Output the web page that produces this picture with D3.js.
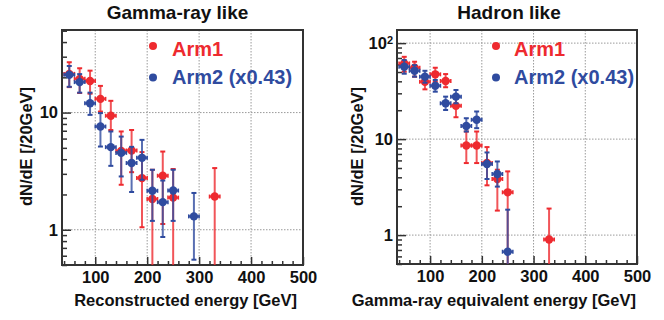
<!DOCTYPE html>
<html><head><meta charset="utf-8">
<script src="https://cdn.jsdelivr.net/npm/d3@7"></script>
<style>
body{margin:0;background:#fff;}
svg{font-family:"Liberation Sans",Arial,sans-serif;font-weight:bold;}
</style></head>
<body><svg id="c" width="664" height="320"></svg>
<script>
// ---- data ----
const xDomain = [36, 500];
const xMajorTicks = [100, 200, 300, 400, 500];
const binHalfWidth = 10;

const panelTitles = ["Gamma-ray like", "Hadron like"];
const xTitles = ["Reconstructed energy [GeV]", "Gamma-ray equivalent energy [GeV]"];
const yTitle = "dN/dE [/20GeV]";
const legendLabels = ["Arm1", "Arm2 (x0.43)"];

// Gamma-ray like, Arm1
const gArm1X  = [50, 70, 90, 110, 130, 150, 170, 190, 210, 230, 250, 330];
const gArm1Y  = [21.4, 19.4, 18.6, 13.1, 9.4, 4.7, 4.75, 2.76, 1.83, 2.89, 1.88, 1.92];
const gArm1Hi = [26.9, 23.9, 22.8, 16.9, 12.6, 6.9, 7.1, 4.6, 3.25, 4.65, 3.3, 3.36];
const gArm1Lo = [16.5, 14.7, 14.5, 10.2, 7.1, 2.42, 3.1, 1.05, 0.3, 1.12, 0.3, 0.3];
// Gamma-ray like, Arm2 (x0.43)
const gArm2X  = [50, 70, 90, 110, 130, 150, 170, 190, 210, 230, 250, 290];
const gArm2Y  = [21.0, 18.2, 12.0, 7.6, 5.07, 4.53, 3.71, 4.11, 2.15, 1.72, 2.16, 1.30];
const gArm2Hi = [25.0, 21.3, 14.8, 9.9, 6.9, 6.24, 5.1, 5.85, 3.25, 2.63, 3.25, 2.06];
const gArm2Lo = [16.6, 14.8, 9.56, 5.13, 3.51, 2.85, 2.1, 2.67, 1.19, 0.867, 1.19, 0.555];
// Hadron like, Arm1
const hArm1X  = [50, 70, 90, 110, 130, 150, 170, 190, 210, 230, 250, 330];
const hArm1Y  = [61.5, 55.4, 39.6, 47.3, 40.3, 22.2, 8.58, 8.58, 5.63, 3.84, 2.79, 0.90];
const hArm1Hi = [72, 64, 46.5, 55.4, 47.6, 26.6, 12, 12, 8.26, 4.8, 4.61, 1.89];
const hArm1Lo = [50.4, 44.7, 33, 39.6, 34.7, 16.9, 5.63, 5.63, 3.3, 1.8, 0.3, 0.3];
// Hadron like, Arm2 (x0.43)
const hArm2X  = [50, 70, 90, 110, 130, 150, 170, 190, 210, 230, 250];
const hArm2Y  = [56.7, 51.5, 44.7, 36, 23.6, 27.7, 13.7, 15.9, 5.5, 4.33, 0.671];
const hArm2Hi = [66.6, 59, 51.5, 41.3, 27.7, 32.5, 16.5, 19.4, 7.26, 5.85, 1.84];
const hArm2Lo = [48, 44.7, 38.7, 31.2, 20.1, 23.6, 12, 13, 3.84, 3.2, 0.3];

const gYDomain = [0.5, 50.7];
const hYDomain = [0.5, 137];
const gYMajor = [1, 10];
const hYMajor = [1, 10, 100];

// ---- drawing ----
const RED = "#ee2a2f", BLUE = "#2f4b9f";
const svg = d3.select("#c");

function mk(x, y, hi, lo){ return x.map((v,i)=>({x:v, y:y[i], hi:hi[i], lo:lo[i]})); }

const panels = [
  {box:{l:62,r:303,t:30,b:265}, yDomain:gYDomain, yMajor:gYMajor,
   series:[mk(gArm1X,gArm1Y,gArm1Hi,gArm1Lo), mk(gArm2X,gArm2Y,gArm2Hi,gArm2Lo)],
   title:panelTitles[0], titleX:177.5, xTitle:xTitles[0], xTitleEnd:297,
   yTitleX:31.5, legX:153, legTextX:172},
  {box:{l:397,r:637,t:30,b:264}, yDomain:hYDomain, yMajor:hYMajor,
   series:[mk(hArm1X,hArm1Y,hArm1Hi,hArm1Lo), mk(hArm2X,hArm2Y,hArm2Hi,hArm2Lo)],
   title:panelTitles[1], titleX:509, xTitle:xTitles[1], xTitleEnd:636,
   yTitleX:362.5, legX:496, legTextX:514}
];

panels.forEach((p, pi) => {
  const b = p.box;
  const x = d3.scaleLinear().domain(xDomain).range([b.l, b.r]);
  const y = d3.scaleLog().domain(p.yDomain).range([b.b, b.t]);
  const g = svg.append("g");
  const clipId = "clip" + pi;
  svg.append("clipPath").attr("id", clipId).append("rect")
    .attr("x", b.l).attr("y", b.t).attr("width", b.r - b.l).attr("height", b.b - b.t);

  // grid
  const grid = g.append("g").attr("stroke", "#9a9a9a").attr("stroke-width", 1).attr("stroke-dasharray", "1.5,1.5");
  xMajorTicks.filter(v => v < 500).forEach(v => {
    grid.append("line").attr("x1", x(v)).attr("x2", x(v)).attr("y1", b.t).attr("y2", b.b);
  });
  p.yMajor.forEach(v => {
    grid.append("line").attr("x1", b.l).attr("x2", b.r).attr("y1", y(v)).attr("y2", y(v));
  });

  // minor x ticks
  const xMinor = d3.range(40, 501, 20).filter(v => v % 100 !== 0);
  g.append("g").attr("transform", `translate(0,${b.b})`)
    .call(d3.axisBottom(x).tickValues(xMinor).tickSizeInner(-4).tickSizeOuter(0).tickFormat(""))
    .call(s => s.select(".domain").remove())
    .call(s => s.selectAll("line").attr("stroke", "#333").attr("stroke-width", 1.5));
  // major x
  g.append("g").attr("transform", `translate(0,${b.b})`)
    .call(d3.axisBottom(x).tickValues(xMajorTicks).tickSizeInner(-8).tickSizeOuter(0).tickPadding(6))
    .call(s => s.select(".domain").remove())
    .call(s => s.selectAll("line").attr("stroke", "#333").attr("stroke-width", 1.5))
    .call(s => s.selectAll("text").attr("font-size", 16.5).attr("font-weight", "bold")
      .attr("font-family", '"Liberation Sans",Arial,sans-serif').attr("fill", "#111"));

  // minor y ticks
  const yMinor = [];
  [0.1, 1, 10, 100].forEach(d => { for (let k = 2; k <= 9; k++) { const v = k * d; if (v >= p.yDomain[0] && v <= p.yDomain[1]) yMinor.push(v); } });
  g.append("g").attr("transform", `translate(${b.l},0)`)
    .call(d3.axisLeft(y).tickValues(yMinor).tickSizeInner(-5).tickSizeOuter(0).tickFormat(""))
    .call(s => s.select(".domain").remove())
    .call(s => s.selectAll("line").attr("stroke", "#333").attr("stroke-width", 1.5));
  g.append("g").attr("transform", `translate(${b.l},0)`)
    .call(d3.axisLeft(y).tickValues(p.yMajor).tickSizeInner(-9).tickSizeOuter(0).tickPadding(4).tickFormat(d => d >= 100 ? "" : String(d)))
    .call(s => s.select(".domain").remove())
    .call(s => s.selectAll("line").attr("stroke", "#333").attr("stroke-width", 1.5))
    .call(s => s.selectAll("text").attr("font-size", 16.5).attr("font-weight", "bold")
      .attr("font-family", '"Liberation Sans",Arial,sans-serif').attr("fill", "#111"))
    .call(s => s.selectAll(".tick").filter(d => d >= 100).select("text").each(function(d){
      const t = d3.select(this);
      t.append("tspan").text("10");
      t.append("tspan").attr("dy", "-0.45em").attr("font-size", 11).text(String(Math.round(Math.log10(d))));
    }));

  // frame
  g.append("rect").attr("x", b.l).attr("y", b.t).attr("width", b.r - b.l).attr("height", b.b - b.t)
    .attr("fill", "none").attr("stroke", "#333").attr("stroke-width", 2);

  // data
  const dg = g.append("g").attr("clip-path", `url(#${clipId})`);
  [RED, BLUE].forEach((col, si) => {
    const data = p.series[si];
    const sg = dg.append("g");
    sg.selectAll(".ev").data(data).join("line")
      .attr("x1", d => x(d.x)).attr("x2", d => x(d.x))
      .attr("y1", d => y(Math.max(d.lo, p.yDomain[0] * 0.5))).attr("y2", d => y(d.hi))
      .attr("stroke", col).attr("stroke-opacity", 0.8).attr("stroke-width", 2);
    sg.selectAll(".ct").data(data).join("line")
      .attr("x1", d => x(d.x) - 2.5).attr("x2", d => x(d.x) + 2.5)
      .attr("y1", d => y(d.hi)).attr("y2", d => y(d.hi))
      .attr("stroke", col).attr("stroke-width", 2);
    sg.selectAll(".cb").data(data.filter(d => d.lo > p.yDomain[0])).join("line")
      .attr("x1", d => x(d.x) - 2.5).attr("x2", d => x(d.x) + 2.5)
      .attr("y1", d => y(d.lo)).attr("y2", d => y(d.lo))
      .attr("stroke", col).attr("stroke-width", 2);
    sg.selectAll(".eh").data(data).join("line")
      .attr("x1", d => x(d.x - binHalfWidth)).attr("x2", d => x(d.x + binHalfWidth))
      .attr("y1", d => y(d.y)).attr("y2", d => y(d.y))
      .attr("stroke", col).attr("stroke-opacity", 0.85).attr("stroke-width", 2.5);
    sg.selectAll(".hc").data(data).join("g").each(function(d){
      const s = d3.select(this);
      [-binHalfWidth, binHalfWidth].forEach(o => s.append("line")
        .attr("x1", x(d.x + o)).attr("x2", x(d.x + o))
        .attr("y1", y(d.y) - 2).attr("y2", y(d.y) + 2)
        .attr("stroke", col).attr("stroke-width", 1.5));
    });
    sg.selectAll("circle").data(data).join("circle")
      .attr("cx", d => x(d.x)).attr("cy", d => y(d.y)).attr("r", 4.2).attr("fill", col);
  });

  // titles
  svg.append("text").attr("x", p.titleX).attr("y", 18.5).attr("text-anchor", "middle")
    .attr("font-size", 19).attr("fill", "#111").text(p.title);
  svg.append("text").attr("x", p.xTitleEnd).attr("y", 306).attr("text-anchor", "end")
    .attr("font-size", 16.5).attr("fill", "#111").text(p.xTitle);
  svg.append("text").attr("transform", `translate(${p.yTitleX},146.5) rotate(-90)`)
    .attr("text-anchor", "middle").attr("font-size", 16.5).attr("fill", "#111").text(yTitle);

  // legend
  [RED, BLUE].forEach((col, i) => {
    const cy = i === 0 ? 46 : 77.5;
    svg.append("circle").attr("cx", p.legX).attr("cy", cy).attr("r", 4).attr("fill", col);
    svg.append("text").attr("x", p.legTextX).attr("y", i === 0 ? 55.5 : 84)
      .attr("font-size", 20).attr("fill", col).text(legendLabels[i]);
  });
});
</script></body></html>
